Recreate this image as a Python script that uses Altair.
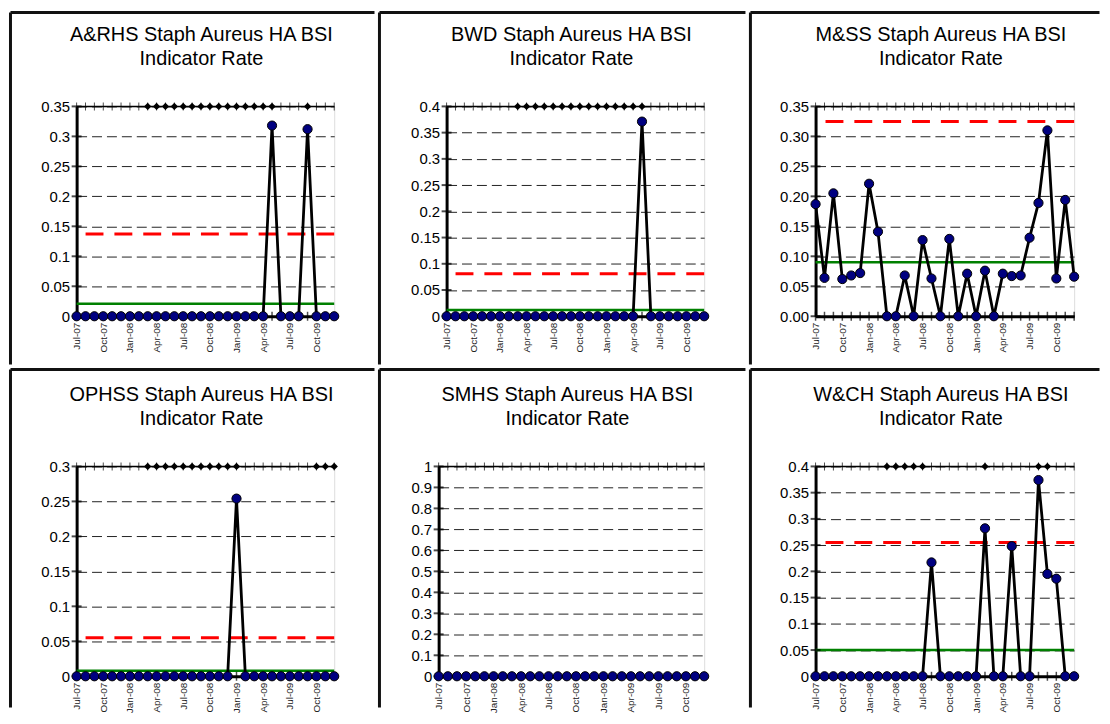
import altair as alt
import pandas as pd

months = ["Jul-07", "Aug-07", "Sep-07", "Oct-07", "Nov-07", "Dec-07",
          "Jan-08", "Feb-08", "Mar-08", "Apr-08", "May-08", "Jun-08",
          "Jul-08", "Aug-08", "Sep-08", "Oct-08", "Nov-08", "Dec-08",
          "Jan-09", "Feb-09", "Mar-09", "Apr-09", "May-09", "Jun-09",
          "Jul-09", "Aug-09", "Sep-09", "Oct-09", "Nov-09", "Dec-09"]
quarter_labels = ["Jul-07", "Oct-07", "Jan-08", "Apr-08", "Jul-08",
                  "Oct-08", "Jan-09", "Apr-09", "Jul-09", "Oct-09"]

names = ["A&RHS", "BWD", "M&SS", "OPHSS", "SMHS", "W&CH"]
title_line2 = "Indicator Rate"

rate_arhs = [0, 0, 0, 0, 0, 0, 0, 0, 0, 0, 0, 0, 0, 0, 0, 0, 0, 0, 0, 0, 0, 0,
             0.318, 0, 0, 0, 0.312, 0, 0, 0]
rate_bwd = [0, 0, 0, 0, 0, 0, 0, 0, 0, 0, 0, 0, 0, 0, 0, 0, 0, 0, 0, 0, 0, 0,
            0.371, 0, 0, 0, 0, 0, 0, 0]
rate_mss = [0.187, 0.064, 0.205, 0.062, 0.068, 0.072, 0.221, 0.141, 0, 0,
            0.068, 0, 0.127, 0.063, 0, 0.129, 0, 0.071, 0, 0.076,
            0, 0.071, 0.067, 0.068, 0.131, 0.189, 0.310, 0.063, 0.194, 0.066]
rate_ophss = [0, 0, 0, 0, 0, 0, 0, 0, 0, 0, 0, 0, 0, 0, 0, 0, 0, 0,
              0.254, 0, 0, 0, 0, 0, 0, 0, 0, 0, 0, 0]
rate_smhs = [0, 0, 0, 0, 0, 0, 0, 0, 0, 0, 0, 0, 0, 0, 0, 0, 0, 0,
             0, 0, 0, 0, 0, 0, 0, 0, 0, 0, 0, 0]
rate_wch = [0, 0, 0, 0, 0, 0, 0, 0, 0, 0, 0, 0, 0, 0.217, 0, 0, 0, 0,
            0, 0.282, 0, 0, 0.248, 0, 0, 0.374, 0.195, 0.186, 0, 0]
rates = [rate_arhs, rate_bwd, rate_mss, rate_ophss, rate_smhs, rate_wch]

flags_arhs = ["Mar-08", "Apr-08", "May-08", "Jun-08", "Jul-08", "Aug-08", "Sep-08",
              "Oct-08", "Nov-08", "Dec-08", "Jan-09", "Feb-09", "Mar-09", "Apr-09",
              "May-09", "Sep-09"]
flags_bwd = ["Mar-08", "Apr-08", "May-08", "Jun-08", "Jul-08", "Aug-08", "Sep-08",
             "Oct-08", "Nov-08", "Dec-08", "Jan-09", "Feb-09", "Mar-09", "Apr-09",
             "May-09"]
flags_mss = []
flags_ophss = ["Mar-08", "Apr-08", "May-08", "Jun-08", "Jul-08", "Aug-08", "Sep-08",
               "Oct-08", "Nov-08", "Dec-08", "Jan-09", "Oct-09", "Nov-09", "Dec-09"]
flags_smhs = []
flags_wch = ["Mar-08", "Apr-08", "May-08", "Jun-08", "Jul-08", "Feb-09", "Aug-09", "Sep-09"]
flags = [flags_arhs, flags_bwd, flags_mss, flags_ophss, flags_smhs, flags_wch]

ucl = [0.137, 0.081, 0.325, 0.055, None, 0.255]
centre = [0.021, 0.012, 0.090, 0.008, None, 0.050]
y_max = [0.35, 0.4, 0.35, 0.3, 1.0, 0.4]
y_ticks = [
    [0, 0.05, 0.1, 0.15, 0.2, 0.25, 0.3, 0.35],
    [0, 0.05, 0.1, 0.15, 0.2, 0.25, 0.3, 0.35, 0.4],
    [0, 0.05, 0.1, 0.15, 0.2, 0.25, 0.3, 0.35],
    [0, 0.05, 0.1, 0.15, 0.2, 0.25, 0.3],
    [0, 0.1, 0.2, 0.3, 0.4, 0.5, 0.6, 0.7, 0.8, 0.9, 1.0],
    [0, 0.05, 0.1, 0.15, 0.2, 0.25, 0.3, 0.35, 0.4],
]
y_format = [".2~f", ".2~f", ".2f", ".2~f", ".1~f", ".2~f"]

# layout (pixels)
plot_w = [259, 259, 260, 259, 267, 260]
plot_h = 211
box_x0 = [-68, -69, -67, -68, -61, -67]
box_x1 = [301, 302, 287, 301, 310, 287]
box_y = [(-96, 261), (-99, 244)]

FONT = "Liberation Sans"


def panel(i, row):
    y0, y1 = box_y[row]
    x0, x1 = box_x0[i], box_x1[i]
    ymax = y_max[i]
    xs = alt.Scale(domain=months, type="point", padding=0)
    ys = alt.Scale(domain=[0, ymax], nice=False, zero=True)
    xax = alt.Axis(values=quarter_labels, labelAngle=270, labelFontSize=10,
                   labelColor="#222", labelFont=FONT, labelPadding=6,
                   domain=True, domainColor="black", domainWidth=3,
                   ticks=False, grid=False, title=None, labelOverlap=False)
    yax = alt.Axis(values=y_ticks[i], format=y_format[i], labelFontSize=15,
                   labelColor="black", labelFont=FONT, labelPadding=7,
                   domain=True, domainColor="black", domainWidth=3,
                   ticks=False, grid=True, gridDash=[10, 5], gridColor="#222",
                   gridWidth=1, title=None, labelOverlap=False)
    X = alt.X("month:O", scale=xs, axis=xax)
    Y = alt.Y("v:Q", scale=ys, axis=yax)

    one = pd.DataFrame({"k": [0]})
    df = pd.DataFrame({"month": months, "v": rates[i]})
    zero_df = pd.DataFrame({"month": months, "v": [0] * len(months)})
    top_df = pd.DataFrame({"month": months, "v": [ymax] * len(months)})
    ytick_df = pd.DataFrame({"month": [months[0]] * len(y_ticks[i]), "v": y_ticks[i]})

    layers = []
    layers.append(alt.Chart(one).mark_rect(fill="white", opacity=0).encode(
        x=alt.value(x0), x2=alt.value(x1), y=alt.value(y0), y2=alt.value(y1)))
    layers.append(alt.Chart(one).mark_rule(color="#111", strokeWidth=3).encode(
        x=alt.value(x0 + 1.5), y=alt.value(y0 + 1.5), y2=alt.value(y1 - 1.5)))
    layers.append(alt.Chart(one).mark_rule(color="#111", strokeWidth=3).encode(
        y=alt.value(y0 + 1.5), x=alt.value(x0 + 1.5), x2=alt.value(x1 - 1.5)))

    # two-line panel title, kept inside the panel frame
    cx = plot_w[i] / 2 - 4
    layers.append(alt.Chart(one).mark_text(
        text=names[i] + " Staph Aureus HA BSI", font=FONT, fontSize=20,
        color="black", align="center", baseline="middle").encode(
        x=alt.value(cx), y=alt.value(-72)))
    layers.append(alt.Chart(one).mark_text(
        text=title_line2, font=FONT, fontSize=20,
        color="black", align="center", baseline="middle").encode(
        x=alt.value(cx), y=alt.value(-48)))

    if centre[i] is not None:
        layers.append(alt.Chart(pd.DataFrame({"v": [centre[i]]})).mark_rule(
            color="#008000", strokeWidth=2.5).encode(y=Y))
    if ucl[i] is not None:
        layers.append(alt.Chart(pd.DataFrame({"v": [ucl[i]]})).mark_rule(
            color="#ff0000", strokeWidth=3, strokeDash=[18, 11]).encode(y=Y))

    layers.append(alt.Chart(zero_df).mark_tick(
        orient="vertical", size=9, thickness=1.5, color="black").encode(x=X, y=Y))
    layers.append(alt.Chart(pd.DataFrame({"v": [ymax]})).mark_rule(
        color="black", strokeWidth=1.5).encode(y=Y))
    layers.append(alt.Chart(top_df).mark_tick(
        orient="vertical", size=8, thickness=1, color="black").encode(x=X, y=Y))
    layers.append(alt.Chart(ytick_df).mark_tick(
        orient="horizontal", size=10, thickness=2, color="black").encode(x=X, y=Y))

    layers.append(alt.Chart(df).mark_line(color="black", strokeWidth=2.8).encode(x=X, y=Y))
    layers.append(alt.Chart(df).mark_point(
        shape="circle", filled=True, fill="#000080", stroke="black",
        strokeWidth=1, size=85, opacity=1).encode(x=X, y=Y))

    if flags[i]:
        fdf = pd.DataFrame({"month": flags[i], "v": [ymax] * len(flags[i])})
        layers.append(alt.Chart(fdf).mark_point(
            shape="diamond", filled=True, color="black", size=55, opacity=1).encode(x=X, y=Y))

    return alt.layer(*layers).properties(width=plot_w[i], height=plot_h)


row1 = alt.hconcat(panel(0, 0), panel(1, 0), panel(2, 0), spacing=0)
row2 = alt.hconcat(panel(3, 1), panel(4, 1), panel(5, 1), spacing=0)

chart = alt.vconcat(row1, row2, spacing=0).properties(padding=0).configure_view(
    stroke="#888", strokeWidth=1
).configure(background="white")

chart.save("out.html", embed_options={"renderer": "svg", "actions": False})
